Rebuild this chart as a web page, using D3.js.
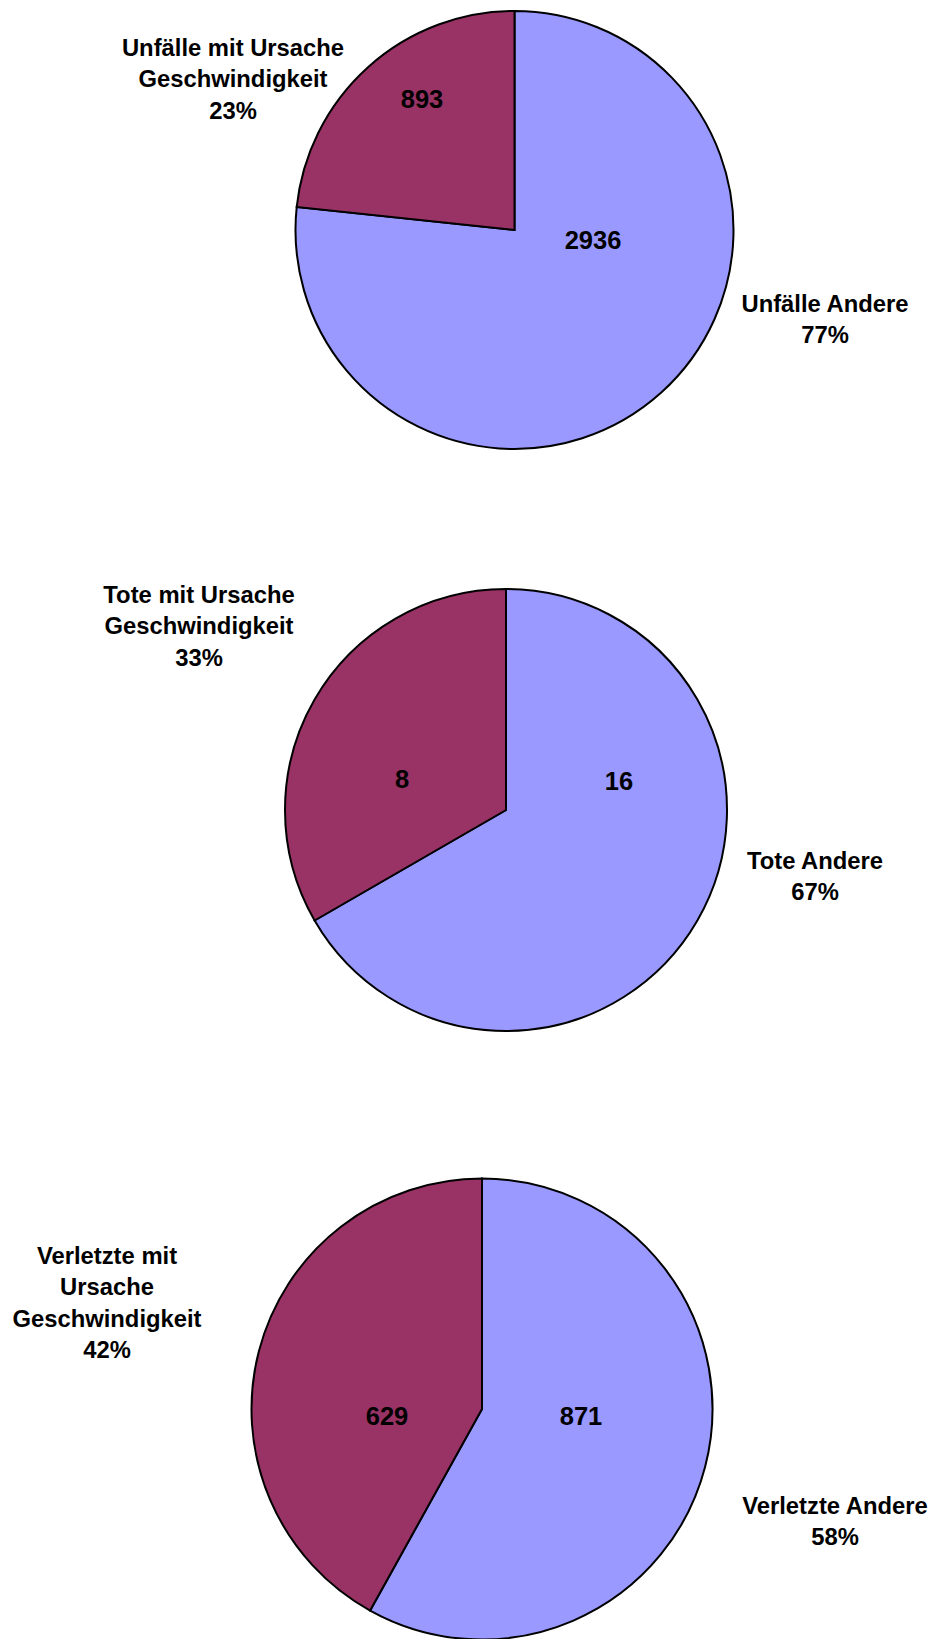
<!DOCTYPE html>
<html>
<head>
<meta charset="utf-8">
<script src="https://cdn.jsdelivr.net/npm/d3@7"></script>
<style>
  html, body { margin: 0; padding: 0; background: #fff; }
  svg { display: block; }
</style>
</head>
<body>
<svg id="chart" width="938" height="1639"></svg>
<script>
// Slice order: "Andere" first (clockwise from 12 o'clock), then "mit Ursache Geschwindigkeit"
const sliceKeys = ["andere", "geschw"];
const sliceColors = ["#9999FF", "#993366"];

// Values per chart
const unfaelleValues = [2936, 893];
const toteValues = [16, 8];
const verletzteValues = [871, 629];

// Category label lines per chart (percentage appended as last line)
const unfaelleLabels = [["Unfälle Andere"], ["Unfälle mit Ursache", "Geschwindigkeit"]];
const toteLabels = [["Tote Andere"], ["Tote mit Ursache", "Geschwindigkeit"]];
const verletzteLabels = [["Verletzte Andere"], ["Verletzte mit", "Ursache", "Geschwindigkeit"]];

// Layout of each pie: centre, radius, and label anchor positions
const layouts = [
  { cx: 514.5, cy: 230, r: 219,
    value: [[593, 249], [422, 108]],
    cat: [[825, 312], [233, 56]] },
  { cx: 506, cy: 810, r: 221,
    value: [[619, 790], [402, 788]],
    cat: [[815, 869], [199, 603]] },
  { cx: 482, cy: 1409, r: 230.5,
    value: [[581, 1425], [387, 1425]],
    cat: [[835, 1514], [107, 1264]] }
];

const charts = [
  { values: unfaelleValues, labels: unfaelleLabels },
  { values: toteValues, labels: toteLabels },
  { values: verletzteValues, labels: verletzteLabels }
];

const svg = d3.select("#chart");
const color = d3.scaleOrdinal().domain(sliceKeys).range(sliceColors);
const pie = d3.pie().sort(null).value(d => d.value);

const fontFamily = "'Liberation Sans', Arimo, Arial, Helvetica, sans-serif";
const catFontSize = 23.8;
const valueFontSize = 25.5;
const lineH = 31.4;

charts.forEach((c, i) => {
  const L = layouts[i];
  const data = c.values.map((v, k) => ({ key: sliceKeys[k], value: v, lines: c.labels[k] }));
  const total = d3.sum(c.values);
  const arcs = pie(data);
  const arc = d3.arc().innerRadius(0).outerRadius(L.r);

  const g = svg.append("g")
    .attr("font-family", fontFamily)
    .attr("font-weight", 700);

  g.append("g")
    .attr("transform", `translate(${L.cx},${L.cy})`)
    .selectAll("path")
    .data(arcs)
    .join("path")
    .attr("d", arc)
    .attr("fill", d => color(d.data.key))
    .attr("stroke", "#000")
    .attr("stroke-width", 2)
    .attr("stroke-linejoin", "miter");

  // Value labels inside slices
  g.selectAll("text.value")
    .data(arcs)
    .join("text")
    .attr("class", "value")
    .attr("x", (d, k) => L.value[k][0])
    .attr("y", (d, k) => L.value[k][1])
    .attr("text-anchor", "middle")
    .attr("font-size", valueFontSize)
    .attr("fill", "#000")
    .text(d => d.data.value);

  // Category labels with percentage
  arcs.forEach((d, k) => {
    const lines = d.data.lines.concat([Math.round(d.data.value / total * 100) + "%"]);
    const t = g.append("text")
      .attr("text-anchor", "middle")
      .attr("font-size", catFontSize)
      .attr("fill", "#000");
    lines.forEach((ln, j) => {
      t.append("tspan")
        .attr("x", L.cat[k][0])
        .attr("y", L.cat[k][1] + j * lineH)
        .text(ln);
    });
  });
});
</script>
</body>
</html>
